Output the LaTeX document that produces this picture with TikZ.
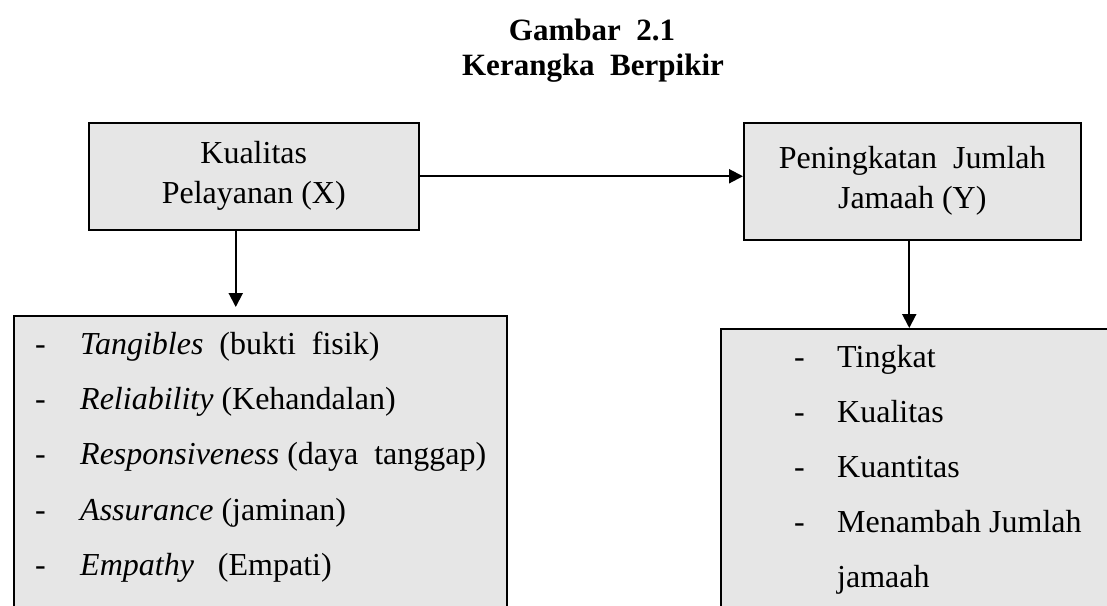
\documentclass[tikz,border=0pt]{standalone}
\usepackage{fontspec}
\setmainfont{Liberation Serif}
\usetikzlibrary{arrows.meta}
\definecolor{boxgray}{HTML}{E6E6E6}

\begin{document}
\begin{tikzpicture}[x=1pt,y=-1pt,
  txt/.style={font=\fontsize{32}{40}\selectfont},
  varbox/.style={draw,line width=1.5pt,fill=boxgray,anchor=north west,inner sep=0pt,txt,align=center},
  item/.style={anchor=west,inner sep=0pt,txt,text height=22pt,text depth=7pt},
  link/.style={line width=2pt,-{Triangle[length=14pt,width=14pt]}}]
\useasboundingbox (0,0) rectangle (1107,605);
\clip (0,0) rectangle (1107,605);

% title
\node [font=\fontsize{31}{40}\selectfont\bfseries] (judul) at (592,30) {Gambar\ \ 2.1};
\node [font=\fontsize{31}{40}\selectfont\bfseries] (subjudul) at (593,68) {Kerangka\ \ Berpikir};

% variables
\node [varbox,minimum width=330pt,minimum height=107pt] (kx) at (88,122) {Kualitas\\Pelayanan (X)};
\node [varbox,minimum width=337pt,minimum height=117pt] (ky) at (743,122) {Peningkatan\ \ Jumlah\\Jamaah (Y)};

% indicator boxes
\node [varbox,minimum width=493pt,minimum height=330pt] (dimx) at (13,315) {};
\node [varbox,minimum width=420pt,minimum height=330pt] (dimy) at (720,328) {};

% indicators of X
\node [item] (dx1) at (35,347) {-};
\node [item] (x1) at (80,347) {\textit{Tangibles}\ \ (bukti\ \ fisik)};
\node [item] (dx2) at (35,402) {-};
\node [item] (x2) at (80,402) {\textit{Reliability} (Kehandalan)};
\node [item] (dx3) at (35,457) {-};
\node [item] (x3) at (80,457) {\textit{Responsiveness} (daya\ \ tanggap)};
\node [item] (dx4) at (35,513) {-};
\node [item] (x4) at (80,513) {\textit{Assurance} (jaminan)};
\node [item] (dx5) at (35,568) {-};
\node [item] (x5) at (80,568) {\textit{Empathy}\ \ \ (Empati)};

% indicators of Y
\node [item] (dy1) at (794,360) {-};
\node [item] (y1) at (837,360) {Tingkat};
\node [item] (dy2) at (794,415) {-};
\node [item] (y2) at (837,415) {Kualitas};
\node [item] (dy3) at (794,470) {-};
\node [item] (y3) at (837,470) {Kuantitas};
\node [item] (dy4) at (794,525) {-};
\node [item] (y4) at (837,525) {Menambah Jumlah};
\node [item] (y5) at (837,580) {jamaah};

% arrows
\draw [link] (kx.east) -- (kx.east -| ky.west);
\draw [link,shorten >=8pt] ([xshift=-18pt]kx.south) -- ([xshift=-18pt]kx.south |- dimx.north);
\draw [link] ([xshift=-3pt]ky.south) -- ([xshift=-3pt]ky.south |- dimy.north);

\end{tikzpicture}
\end{document}
